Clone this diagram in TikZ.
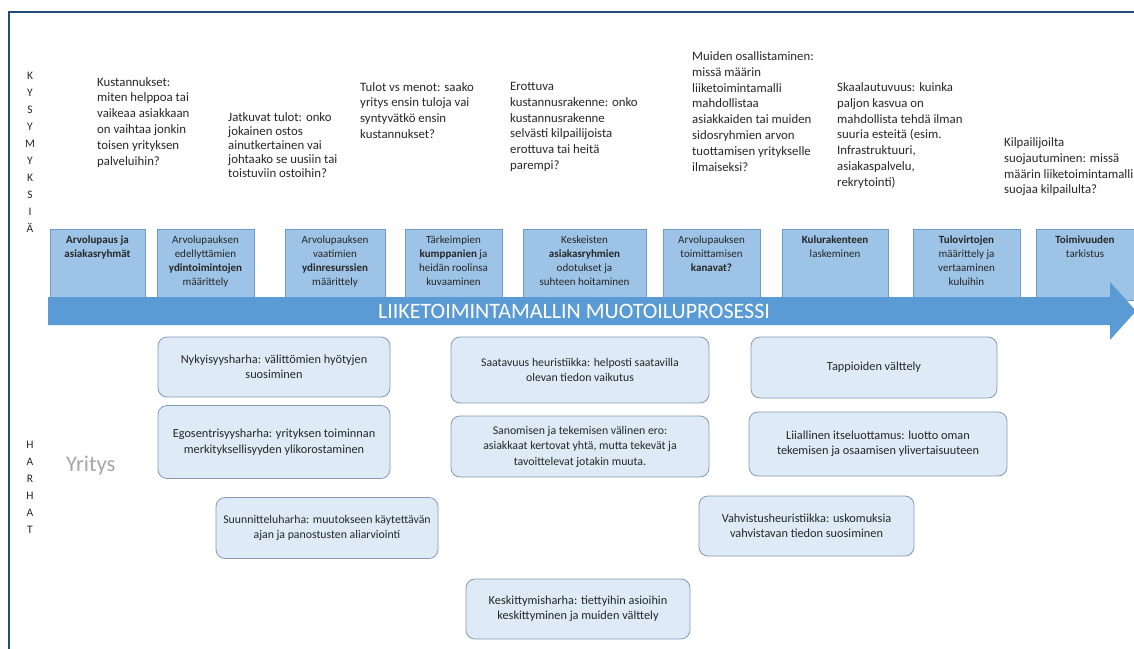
\documentclass[tikz,border=0pt]{standalone}
\usepackage{fontspec}
\setmainfont{Carlito}
\definecolor{frameblue}{HTML}{1F4E79}
\definecolor{boxfill}{HTML}{9DC3E6}
\definecolor{boxline}{HTML}{6F9BC8}
\definecolor{arrowblue}{HTML}{5B9BD5}
\definecolor{biasfill}{HTML}{DEEBF7}
\definecolor{biasline}{HTML}{8599B4}
\definecolor{inktext}{HTML}{262626}
\definecolor{softgray}{HTML}{A6A6A6}
\begin{document}
\begin{tikzpicture}[x=1pt,y=-1pt,
  question/.style={anchor=north west, inner sep=0pt, align=left, text=inktext,
    font=\fontsize{12.8}{15.8}\selectfont},
  sidelabel/.style={anchor=north, inner sep=0pt, align=center, text=inktext,
    font=\fontsize{11.5}{17.1}\selectfont},
  stepbox/.style={draw=boxline, fill=boxfill, line width=0.8pt},
  steptext/.style={anchor=north, inner sep=0pt, align=center, text=inktext,
    font=\fontsize{11}{14}\selectfont},
  bias/.style={draw=biasline, fill=biasfill, rounded corners=9pt, line width=0.8pt,
    align=center, inner sep=0pt, text=inktext, font=\fontsize{12.3}{15.5}\selectfont},
]
\useasboundingbox (0,0) rectangle (1134,648);

% outer frame (open on the right and bottom)
\draw[frameblue, line width=2pt] (1140,12) -- (9,12) -- (9,660);

% side labels
\node[sidelabel] (kysymyksia) at (30,71.5) {K\\Y\\S\\Y\\M\\Y\\K\\S\\I\\Ä};
\node[sidelabel] (harhat) at (30,440.5) {H\\A\\R\\H\\A\\T};
\node[anchor=west, inner sep=0pt, text=softgray, font=\fontsize{22.5}{25}\selectfont] (yritys) at (66,466) {Yritys};

% questions above the process
\node[question] (q1) at (97,77) {Kustannukset:\\miten helppoa tai\\vaikeaa asiakkaan\\on vaihtaa jonkin\\toisen yrityksen\\palveluihin?};
\node[question, font=\fontsize{12.8}{14}\selectfont] (q2) at (228,112) {Jatkuvat tulot: onko\\jokainen ostos\\ainutkertainen vai\\johtaako se uusiin tai\\toistuviin ostoihin?};
\node[question] (q3) at (360,82) {Tulot vs menot: saako\\yritys ensin tuloja vai\\syntyvätkö ensin\\kustannukset?};
\node[question] (q4) at (510,82) {Erottuva\\kustannusrakenne: onko\\kustannusrakenne\\selvästi kilpailijoista\\erottuva tai heitä\\parempi?};
\node[question] (q5) at (692,51.5) {Muiden osallistaminen:\\missä määrin\\liiketoimintamalli\\mahdollistaa\\asiakkaiden tai muiden\\sidosryhmien arvon\\tuottamisen yritykselle\\ilmaiseksi?};
\node[question] (q6) at (837,82.5) {Skaalautuvuus: kuinka\\paljon kasvua on\\mahdollista tehdä ilman\\suuria esteitä (esim.\\Infrastruktuuri,\\asiakaspalvelu,\\rekrytointi)};
\node[question] (q7) at (1004,137.5) {Kilpailijoilta\\suojautuminen: missä\\määrin liiketoimintamalli\\suojaa kilpailulta?};

% process steps
\draw[stepbox] (50,229) rectangle (145,300);
\draw[stepbox] (157,229) rectangle (254,300);
\draw[stepbox] (285,229) rectangle (385,300);
\draw[stepbox] (405,229) rectangle (502,300);
\draw[stepbox] (523,229) rectangle (646,300);
\draw[stepbox] (663,229) rectangle (760,300);
\draw[stepbox] (782,229) rectangle (888,300);
\draw[stepbox] (913,229) rectangle (1020,300);
\draw[stepbox] (1036,229) rectangle (1140,300);

\node[steptext] (s1) at (97.5,236) {\textbf{Arvolupaus ja}\\\textbf{asiakasryhmät}};
\node[steptext] (s2) at (205.5,236) {Arvolupauksen\\edellyttämien\\\textbf{ydintoimintojen}\\määrittely};
\node[steptext] (s3) at (335,236) {Arvolupauksen\\vaatimien\\\textbf{ydinresurssien}\\määrittely};
\node[steptext] (s4) at (453.5,236) {Tärkeimpien\\\textbf{kumppanien} ja\\heidän roolinsa\\kuvaaminen};
\node[steptext] (s5) at (584.5,236) {Keskeisten\\\textbf{asiakasryhmien}\\odotukset ja\\suhteen hoitaminen};
\node[steptext] (s6) at (711.5,236) {Arvolupauksen\\toimittamisen\\\textbf{kanavat?}};
\node[steptext] (s7) at (835,236) {\textbf{Kulurakenteen}\\laskeminen};
\node[steptext] (s8) at (966.5,236) {\textbf{Tulovirtojen}\\määrittely ja\\vertaaminen\\kuluihin};
\node[steptext] (s9) at (1085,236) {\textbf{Toimivuuden}\\tarkistus};

% process arrow
\fill[arrowblue] (48,297) -- (1110,297) -- (1110,282) -- (1136,311)
  -- (1110,340) -- (1110,325) -- (48,325) -- cycle;
\node[text=white, inner sep=0pt, font=\fontsize{22}{24}\selectfont] (prosessi) at (574,311) {LIIKETOIMINTAMALLIN MUOTOILUPROSESSI};

% biases
\node[bias, minimum width=232, minimum height=60] (nyky) at (274,367) {Nykyisyysharha: välittömien hyötyjen\\suosiminen};
\node[bias, minimum width=232, minimum height=73] (ego) at (274,442) {Egosentrisyysharha: yrityksen toiminnan\\merkityksellisyyden ylikorostaminen};
\node[bias, minimum width=222, minimum height=61, font=\fontsize{11.8}{15.5}\selectfont] (suunn) at (327,528) {Suunnitteluharha: muutokseen käytettävän\\ajan ja panostusten aliarviointi};
\node[bias, minimum width=258, minimum height=66, font=\fontsize{11.8}{15.5}\selectfont] (saat) at (580,370) {Saatavuus heuristiikka: helposti saatavilla\\olevan tiedon vaikutus};
\node[bias, minimum width=258, minimum height=61, font=\fontsize{11.8}{15.5}\selectfont] (sanom) at (580,446.5) {Sanomisen ja tekemisen välinen ero:\\asiakkaat kertovat yhtä, mutta tekevät ja\\tavoittelevat jotakin muuta.};
\node[bias, minimum width=224, minimum height=60] (keskit) at (578,609) {Keskittymisharha: tiettyihin asioihin\\keskittyminen ja muiden välttely};
\node[bias, minimum width=246, minimum height=61] (tapp) at (874,367.5) {Tappioiden välttely};
\node[bias, minimum width=258, minimum height=64] (liial) at (878,444) {Liiallinen itseluottamus: luotto oman\\tekemisen ja osaamisen ylivertaisuuteen};
\node[bias, minimum width=215, minimum height=60] (vahv) at (806.5,526) {Vahvistusheuristiikka: uskomuksia\\vahvistavan tiedon suosiminen};
\end{tikzpicture}
\end{document}
